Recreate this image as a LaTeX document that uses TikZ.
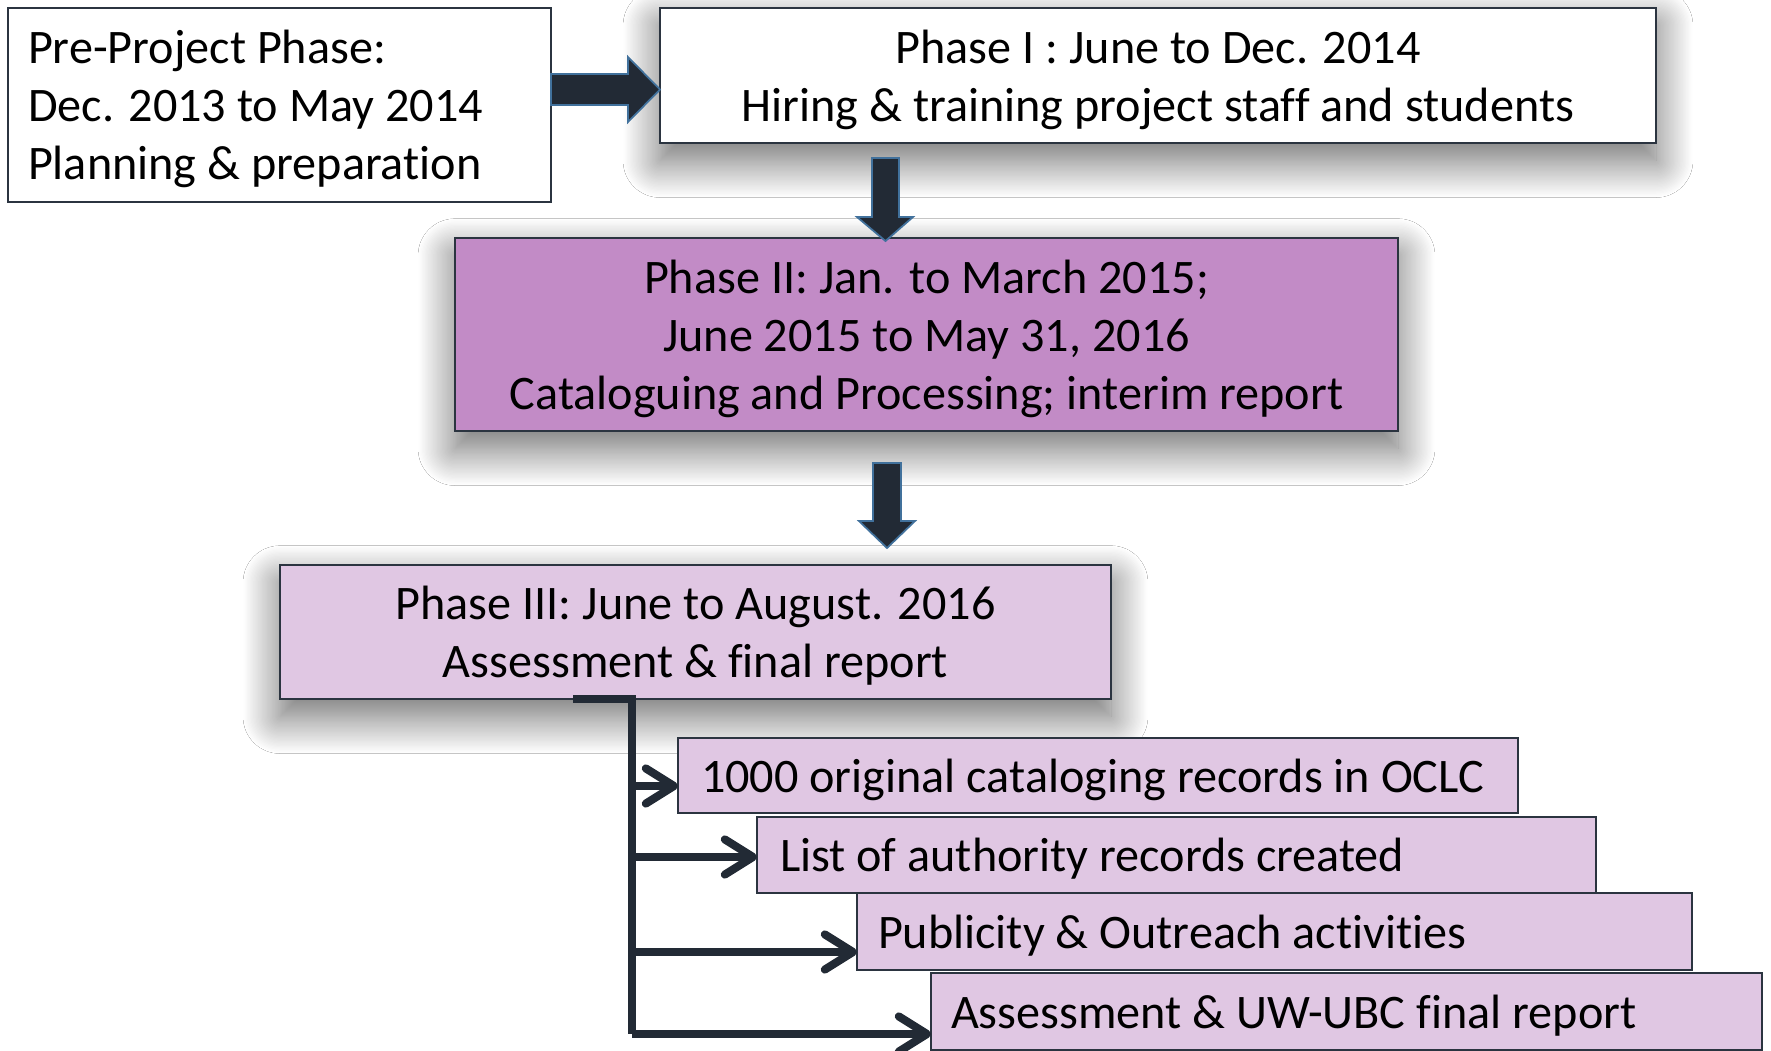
\documentclass[tikz,border=0pt]{standalone}
\usepackage{fontspec}
\setmainfont[Ligatures={NoCommon}]{Carlito}
\usetikzlibrary{arrows.meta,shadows.blur,calc}
\definecolor{navy}{HTML}{222A35}
\definecolor{arrowedge}{HTML}{41719C}
\definecolor{boxedge}{HTML}{2B3440}
\definecolor{purpleA}{HTML}{C28BC6}
\definecolor{purpleB}{HTML}{E0C7E3}
\tikzset{
  box/.style={draw=boxedge, line width=0.6pt, inner sep=0pt, outer sep=0pt},
  txt/.style={inner sep=0pt, outer sep=0pt,
    font=\fontsize{13.7pt}{16.5pt}\selectfont, align=center},
  ltxt/.style={txt, align=flush left, text width=#1*0.01cm},
  glow/.style={blur shadow={shadow xshift=0pt, shadow yshift=-5pt,
    shadow blur radius=10.5pt, shadow scale=1, shadow opacity=60,
    shadow blur steps=30}},
  blockarrow/.style={fill=navy, draw=arrowedge, line width=0.5pt, line join=miter},
  tree/.style={draw=navy, line width=2.3pt},
  treearrow/.style={tree, -{Straight Barb[length=8pt,width=10pt,round]}},
}
\begin{document}
\begin{tikzpicture}[x=0.01cm, y=-0.01cm]
\useasboundingbox (0,0) rectangle (1771,1051);
\fill[white] (0,0) rectangle (1771,1051);

% main phase boxes
\node[box, fill=white, minimum width=543*0.01cm, minimum height=194*0.01cm] (pre) at (279.5,105) {};
\node[ltxt=503] (pret) at ($(pre.center)+(0,4)$)
  {Pre-Project Phase:\\Dec. 2013 to May 2014\\Planning \& preparation};
\node[box, fill=white, glow, minimum width=996*0.01cm, minimum height=135*0.01cm] (ph1) at (1158,75.5) {};
\node[txt] (ph1t) at ($(ph1.center)+(0,4)$)
  {Phase I : June to Dec. 2014\\Hiring \& training project staff and students};
\node[box, fill=purpleA, glow, minimum width=943*0.01cm, minimum height=193*0.01cm] (ph2) at (926.5,334.5) {};
\node[txt] (ph2t) at ($(ph2.center)+(0,4)$)
  {Phase II: Jan. to March 2015;\\June 2015 to May 31, 2016\\Cataloguing and Processing; interim report};
\node[box, fill=purpleB, glow, minimum width=831*0.01cm, minimum height=134*0.01cm] (ph3) at (695.5,632) {};
\node[txt] (ph3t) at ($(ph3.center)+(0,4)$)
  {Phase III: June to August. 2016\\Assessment \& final report};

% output boxes
\node[box, fill=purpleB, minimum width=840*0.01cm, minimum height=75*0.01cm] (oa) at (1098,775.5) {};
\node[ltxt=798] (oat) at ($(oa.center)+(2,4)$) {1000 original cataloging records in OCLC};
\node[box, fill=purpleB, minimum width=839*0.01cm, minimum height=76*0.01cm] (ob) at (1176.5,855) {};
\node[ltxt=797] (obt) at ($(ob.center)+(2,4)$) {List of authority records created};
\node[box, fill=purpleB, minimum width=835*0.01cm, minimum height=77*0.01cm] (oc) at (1274.5,931.5) {};
\node[ltxt=793] (oct) at ($(oc.center)+(0,4)$) {Publicity \& Outreach activities};
\node[box, fill=purpleB, minimum width=831*0.01cm, minimum height=77*0.01cm] (od) at (1346.5,1011.5) {};
\node[ltxt=791] (odt) at ($(od.center)+(0,4)$) {Assessment \& UW-UBC final report};

% block arrows
\draw[blockarrow] (pre.east |- 0,74) -- (628,74) -- (628,57) -- (ph1.west |- 0,89.5)
  -- (628,122) -- (628,105) -- (pre.east |- 0,105) -- cycle;
\draw[blockarrow] (872,158) -- (899,158) -- (899,217) -- (913,217) -- (885.5,241)
  -- (857,217) -- (872,217) -- cycle;
\draw[blockarrow] (873,463) -- (901,463) -- (901,521) -- (915,521) -- (887,548)
  -- (859,521) -- (873,521) -- cycle;

% tree connectors
\coordinate (t0) at (573,699);
\coordinate (t1) at (632,699);
\coordinate (t2) at (632,1034);
\draw[tree, line cap=butt] (t0) -- (t1) -- (t2);
\draw[treearrow] (632,786) -- (oa.west |- 0,786);
\draw[treearrow] (632,857) -- (ob.west |- 0,857);
\draw[treearrow] (632,952) -- (oc.west |- 0,952);
\draw[treearrow] (t2) -- (od.west |- t2);
\end{tikzpicture}
\end{document}
